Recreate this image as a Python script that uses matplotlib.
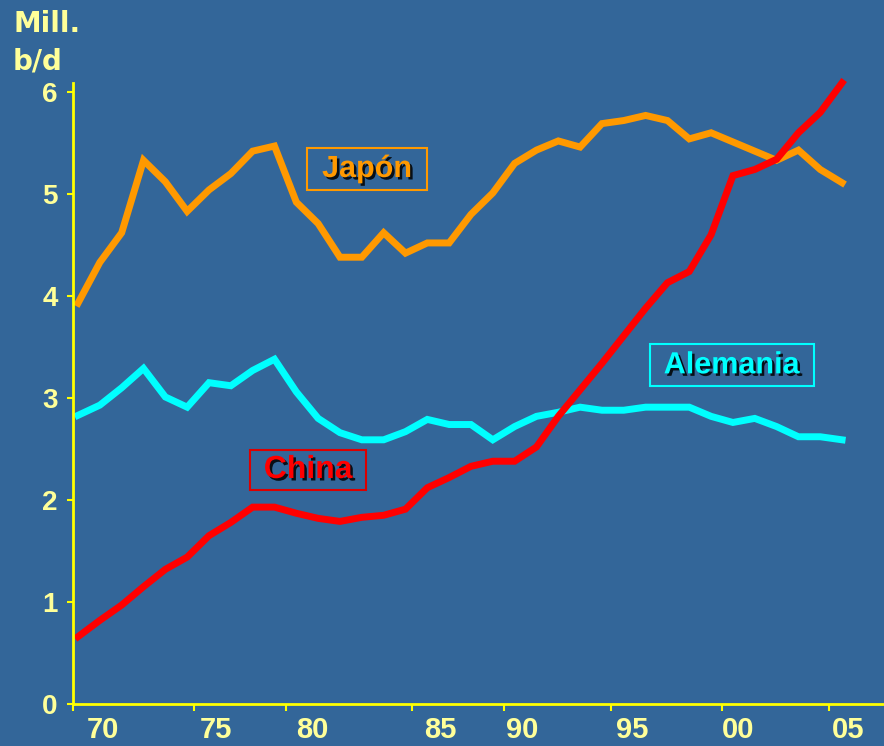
import matplotlib.pyplot as plt
import matplotlib.patheffects as pe

# data (million barrels per day)
years = list(range(1970, 2006))
japon = [3.93, 4.33, 4.62, 5.33, 5.12, 4.83, 5.04, 5.20, 5.42, 5.47,
         4.92, 4.71, 4.38, 4.38, 4.62, 4.42, 4.52, 4.52, 4.80, 5.01,
         5.30, 5.43, 5.52, 5.46, 5.69, 5.72, 5.77, 5.72, 5.54, 5.60,
         5.51, 5.42, 5.33, 5.43, 5.24, 5.11]
china = [0.66, 0.82, 0.97, 1.15, 1.32, 1.44, 1.65, 1.78, 1.93, 1.93,
         1.87, 1.82, 1.79, 1.83, 1.85, 1.91, 2.12, 2.22, 2.33, 2.38,
         2.38, 2.52, 2.82, 3.08, 3.34, 3.61, 3.88, 4.13, 4.24, 4.60,
         5.18, 5.24, 5.34, 5.60, 5.80, 6.09]
alemania = [2.83, 2.93, 3.10, 3.29, 3.01, 2.91, 3.15, 3.12, 3.27, 3.38,
            3.06, 2.80, 2.66, 2.59, 2.59, 2.67, 2.79, 2.74, 2.74, 2.59,
            2.72, 2.82, 2.86, 2.91, 2.88, 2.88, 2.91, 2.91, 2.91, 2.82,
            2.76, 2.80, 2.72, 2.62, 2.62, 2.59]

# x tick marks and (shifted) tick labels, as in the original slide
tick_marks = [1969.77, 1975.31, 1979.53, 1985.3, 1989.5, 1994.4, 1999.5, 2004.4]
label_pos = [1971.15, 1976.33, 1980.72, 1986.58, 1990.34, 1995.38, 2000.23, 2005.27]
x_labels = ['70', '75', '80', '85', '90', '95', '00', '05']
y_ticks = [0, 1, 2, 3, 4, 5, 6]

bg = '#336699'
axis_yellow = '#ffff00'
text_yellow = '#ffff99'

plt.rcParams['font.family'] = ['Liberation Sans', 'DejaVu Sans']
plt.rcParams['font.weight'] = 'bold'

fig = plt.figure(figsize=(8.84, 7.46), dpi=100, facecolor=bg)
ax = fig.add_axes([73/884, 42/746, (884-73)/884, (704-83)/746])
ax.set_facecolor(bg)

ax.plot(years, japon, color='#ff9900', lw=5, solid_joinstyle='miter')
ax.plot(years, alemania, color='#00ffff', lw=5, solid_joinstyle='miter')
ax.plot(years, china, color='#ff0000', lw=5, solid_joinstyle='miter', clip_on=False)

ax.set_xlim(1969.77, 2006.92)
ax.set_ylim(0, 6.088)

for s in ['top', 'right']:
    ax.spines[s].set_visible(False)
for s in ['left', 'bottom']:
    ax.spines[s].set_color(axis_yellow)
    ax.spines[s].set_linewidth(2)

ax.set_yticks(y_ticks)
ax.set_yticklabels([str(v) for v in y_ticks])
ax.tick_params(axis='y', direction='out', length=4, width=1.5, color=axis_yellow,
               labelcolor=text_yellow, labelsize=20, pad=7)

ax.set_xticks(label_pos)
ax.set_xticklabels(x_labels)
ax.set_xticks(tick_marks, minor=True)
ax.tick_params(axis='x', which='major', length=0, labelcolor=text_yellow, labelsize=21, pad=9)
ax.tick_params(axis='x', which='minor', direction='out', length=5, width=1.5, color=axis_yellow)

shadow = [pe.SimplePatchShadow(offset=(1.8, -1.8), shadow_rgbFace='black', alpha=0.85), pe.Normal()]

ax.text(1983.24, 5.245, ' Japón ', color='#ff9900', fontsize=22, fontweight='bold',
        ha='center', va='center', path_effects=shadow,
        bbox=dict(boxstyle='square,pad=0.2', fc='none', ec='#ff9900', lw=1.5))
ax.text(1980.54, 2.294, ' China ', color='#ff0000', fontsize=23, fontweight='bold',
        ha='center', va='center', path_effects=shadow,
        bbox=dict(boxstyle='square,pad=0.15', fc='none', ec='#dd0000', lw=1.5))
ax.text(1999.96, 3.32, ' Alemania ', color='#00ffff', fontsize=22, fontweight='bold',
        ha='center', va='center', path_effects=shadow,
        bbox=dict(boxstyle='square,pad=0.2', fc='none', ec='#00ffff', lw=1.5))

# unit label, two lines
fig.text(13/884, 1 - 32/746, 'Mill.', color=text_yellow, fontsize=20,
         family='DejaVu Sans', fontweight='bold', ha='left', va='baseline')
fig.text(13/884, 1 - 70/746, 'b/d', color=text_yellow, fontsize=20,
         family='DejaVu Sans', fontweight='bold', ha='left', va='baseline')

plt.savefig('out.png', dpi=100, facecolor=bg)
